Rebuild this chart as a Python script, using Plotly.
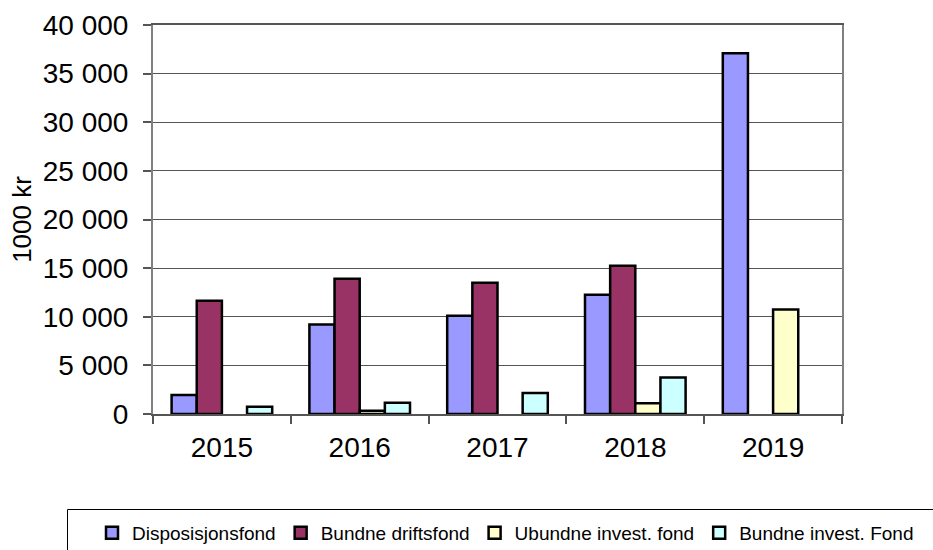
import plotly.graph_objects as go

years = ["2015", "2016", "2017", "2018", "2019"]
disposisjonsfond = [1950, 9200, 10100, 12250, 37100]
bundne_driftsfond = [11650, 13900, 13500, 15250, None]
ubundne_invest = [None, 340, None, 1100, 10750]
bundne_invest = [750, 1150, 2150, 3750, None]

series_names = ["Disposisjonsfond", "Bundne driftsfond", "Ubundne invest. fond", "Bundne invest. Fond"]
series_values = [disposisjonsfond, bundne_driftsfond, ubundne_invest, bundne_invest]
series_colors = ["#9999FF", "#993366", "#FFFFCC", "#CCFFFF"]

fig = go.Figure()
for name, vals, col in zip(series_names, series_values, series_colors):
    fig.add_trace(go.Bar(
        x=years, y=vals, name=name,
        marker=dict(color=col, line=dict(color="#000000", width=2.5)),
    ))

W, H = 933, 550
ml, mr, mt, mb = 153, 91, 25, 136
pw, ph = W - ml - mr, H - mt - mb

def px_x(p):
    return (p - ml) / pw

def px_y(p):
    return (H - mb - p) / ph

fig.update_layout(
    width=W, height=H,
    margin=dict(l=ml, r=mr, t=mt, b=mb, pad=0, autoexpand=False),
    paper_bgcolor="white", plot_bgcolor="white",
    font=dict(family="Liberation Sans, Arial, sans-serif", color="#000000"),
    separators=", ",
    barmode="group", bargap=0.27, bargroupgap=0,
    showlegend=True,
    legend=dict(
        orientation="h", x=px_x(92), xanchor="left", y=px_y(533), yanchor="middle",
        font=dict(size=19, color="#000000"), bgcolor="rgba(0,0,0,0)",
        borderwidth=0, traceorder="normal",
    ),
    xaxis=dict(
        type="category", automargin=False, showgrid=False, showline=True,
        linecolor="#555555", linewidth=1.5, mirror=True, ticks="outside",
        tickson="boundaries", ticklen=8, tickcolor="#555555", tickwidth=1.5,
        tickfont=dict(size=28), ticklabelstandoff=8,
    ),
    yaxis=dict(
        automargin=False, range=[0, 40000], dtick=5000, tickformat=",d",
        showgrid=True, gridcolor="#555555", gridwidth=1, showline=True,
        linecolor="#808080", linewidth=2, mirror=True,
        ticks="outside", ticklen=8, tickcolor="#555555", tickwidth=1.5,
        tickfont=dict(size=28), ticklabelstandoff=9, zeroline=False,
        title=dict(text="1000 kr", font=dict(size=26), standoff=4),
    ),
    shapes=[dict(
        type="rect", xref="paper", yref="paper",
        x0=px_x(67.5), x1=px_x(945), y0=px_y(565), y1=px_y(509.5),
        line=dict(color="#000000", width=1), fillcolor="rgba(0,0,0,0)", layer="above",
    )],
)

fig.write_html(
    "out.html",
    config={"displayModeBar": False},
    post_script="document.body.style.margin='0';document.body.style.overflow='hidden';",
)
